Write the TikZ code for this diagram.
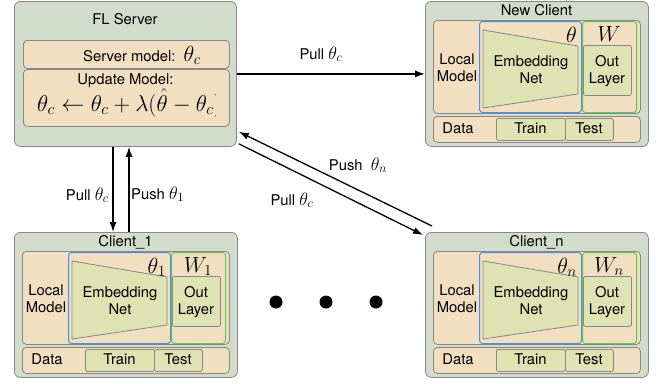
\RequirePackage{fix-cm}
\documentclass[tikz,border=0pt]{standalone}
\usepackage[no-math]{fontspec}
\setmainfont{TeX Gyre Heros}
\usetikzlibrary{arrows.meta,calc}
\definecolor{outerfill}{RGB}{211,220,202}
\definecolor{orfill}{RGB}{242,223,193}
\definecolor{olfill}{RGB}{223,226,178}
\definecolor{bgray}{RGB}{135,135,135}
\definecolor{bluebd}{RGB}{74,144,226}
\definecolor{greenbd}{RGB}{95,200,80}
\newcommand\bm[1]{{\fontsize{22}{24}\selectfont$#1$}}
\newcommand\fm[1]{{\fontsize{23}{25}\selectfont$#1$}}
\newcommand\lm[1]{{\fontsize{18}{20}\selectfont$#1$}}
\tikzset{
  txt/.style={inner sep=0pt, font=\fontsize{14.8}{17}\selectfont, align=center},
  outerbox/.style={draw=bgray, fill=outerfill, rounded corners=6pt, line width=0.8pt, anchor=north west, inner sep=0pt},
  orbox/.style={draw=bgray, fill=orfill, rounded corners=4pt, line width=0.8pt, anchor=north west, inner sep=0pt},
  olbox/.style={draw=bgray, fill=olfill, rounded corners=2pt, line width=0.8pt, anchor=north west, inner sep=0pt},
  bluebox/.style={draw=bluebd, rounded corners=3pt, line width=1pt, anchor=north west, inner sep=0pt},
  greenbox/.style={draw=greenbd, rounded corners=3pt, line width=1pt, anchor=north west, inner sep=0pt},
  trap/.style={draw=bgray, fill=olfill, line width=0.8pt},
  arr/.style={-{Latex[length=10pt,width=7pt]}, line width=1.3pt},
  dot/.style={circle, fill=black, minimum size=13pt, inner sep=0pt},
}
\newcommand\clientbox[6]{%
\begin{scope}[shift={(#2,#3)}]
  \node[outerbox, minimum width=223pt, minimum height=145pt] (#1) at (0,0) {};
  \node[txt, anchor=base] (#1-title) at (111.5,14) {#4};
  \node[orbox, minimum width=207pt, minimum height=93pt] (#1-lm) at (8,19) {};
  \node[bluebox, minimum width=102pt, minimum height=91pt] (#1-emb) at (54,20) {};
  \node[greenbox, minimum width=54pt, minimum height=91pt] (#1-out) at (157,20) {};
  \draw[trap] (58,29) -- (153,45) -- (153,93) -- (58,107) -- cycle;
  \node[olbox, minimum width=48pt, minimum height=50pt] (#1-ol) at (158,44) {};
  \node[txt, anchor=base] (#1-oltxt) at (182,82) {Out\\Layer};
  \node[txt, anchor=base] (#1-embtxt) at (106,82) {Embedding\\Net};
  \node[txt, anchor=base] (#1-lmtxt) at (32,80) {Local\\Model};
  \node[inner sep=0pt, anchor=base east] (#1-theta) at (152,41) {\bm{#5}};
  \node[inner sep=0pt, anchor=base] (#1-w) at (184,40) {\bm{#6}};
  \node[orbox, minimum width=207pt, minimum height=26pt] (#1-data) at (8,115) {};
  \node[txt, anchor=base] (#1-datatxt) at (33,132) {Data};
  \node[olbox, minimum width=69pt, minimum height=22pt] (#1-train) at (71,117) {};
  \node[olbox, minimum width=48pt, minimum height=22pt] (#1-test) at (140,117) {};
  \node[txt, anchor=base] (#1-traintxt) at (105.5,132) {Train};
  \node[txt, anchor=base] (#1-testtxt) at (164,132) {Test};
\end{scope}}
\begin{document}
\begin{tikzpicture}[x=1pt,y=-1pt]
\useasboundingbox (0,0) rectangle (658,383);
% server
\node[outerbox, minimum width=222pt, minimum height=145pt] (server) at (14,1) {};
\node[txt, anchor=base] (srvtitle) at (125,24) {FL Server};
\node[orbox, minimum width=206pt, minimum height=28pt] (smodel) at (23,40) {};
\node[txt, anchor=base] (smodeltxt) at (142,61) {Server model:\ \ \bm{\theta_c}};
\node[orbox, minimum width=206pt, minimum height=57pt] (upd) at (23,69) {};
\node[txt, anchor=base] (updtxt) at (125.5,84) {Update Model:};
\begin{scope}
  \clip (23,88) rectangle (215,126);
  \node[inner sep=0pt, anchor=base west] (formula) at (37,111) {\fm{\theta_c \leftarrow \theta_c + \lambda(\hat{\theta} - \theta_c)}};
\end{scope}
% clients
\clientbox{newc}{425}{1}{New Client}{\theta}{W}
\clientbox{cone}{14}{232}{Client\_1}{\theta_1}{W_1}
\clientbox{cn}{425}{232}{Client\_n}{\theta_n}{W_n}
% arrows
\draw[arr] (server.east) -- (newc.west);
\node[txt, anchor=base] (lbl1) at (321,59) {Pull \lm{\theta_c}};
\draw[arr] ([xshift=99pt]server.south west) -- ([xshift=99pt]cone.north west);
\draw[arr] ([xshift=115pt]cone.north west) -- ([xshift=115pt]server.south west);
\node[txt, anchor=base east] (lbl2) at (109,200) {Pull \lm{\theta_c}};
\node[txt, anchor=base west] (lbl3) at (131,199) {Push \lm{\theta_1}};
\draw[arr] ($(cn.north west)+(7,-6)$) -- ($(server.south east)+(2,-15)$);
\draw[arr] ($(server.south east)+(2,-3)$) -- ($(cn.north west)+(-2,3)$);
\node[txt, anchor=base] (lbl4) at (358,170) {Push \ \lm{\theta_n}};
\node[txt, anchor=base] (lbl5) at (292,205) {Pull \lm{\theta_c}};
% dots
\node[dot] (d1) at (276,302) {};
\node[dot] (d2) at (326,302) {};
\node[dot] (d3) at (376,302) {};
\end{tikzpicture}
\end{document}
